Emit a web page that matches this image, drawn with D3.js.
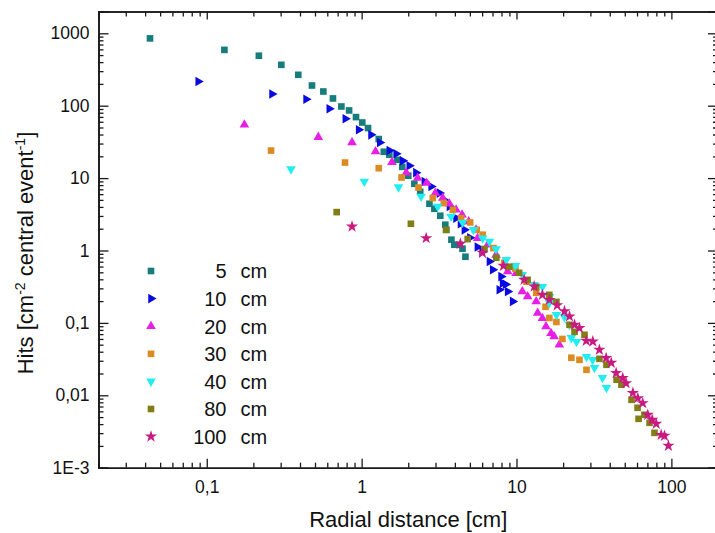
<!DOCTYPE html>
<html><head><meta charset="utf-8">
<script src="https://cdn.jsdelivr.net/npm/d3@7"></script>
<style>
body{margin:0;background:#fff}
svg{display:block}
text{font-family:Arial,"Liberation Sans",sans-serif;fill:#111}
</style>
</head><body>
<svg id="chart" width="715" height="533"></svg>
<script>
// ---------- data (radial distance [cm], hits) ----------
const seriesLabels = ["5", "10", "20", "30", "40", "80", "100"];
const unitLabel = "cm";

const r5  = [0.043,0.130,0.217,0.303,0.390,0.478,0.566,0.653,0.740,0.830,0.920,1.01,1.10,1.29,1.39,1.51,1.70,1.83,2.00,2.19,2.39,2.74,2.95,3.22,3.47,3.52,3.80,3.97,4.28,4.48,4.68];
const h5  = [850,590,490,367,267,190,157,126,97.5,86,69.6,58.6,49.1,34.6,23.1,21.0,17.9,14.3,10.8,8.34,6.47,4.42,3.77,3.02,2.27,1.93,1.41,1.20,1.20,1.06,0.82];

const r10 = [0.0881,0.264,0.438,0.618,0.785,0.957,1.15,1.31,1.51,1.67,1.84,2.03,2.24,2.54,2.81,3.18,3.40,3.69,4.07,4.35,4.61,5.0,5.59,6.0,6.69,7.02,7.95,8.13,7.75,8.5,8.77,9.44];
const h10 = [216,145,123,90.6,65.9,46.5,39.6,31.0,24.0,21.7,17.3,14.8,11.9,8.97,7.65,6.21,5.0,4.05,2.80,2.35,1.93,1.5,1.12,0.95,0.705,0.541,0.436,0.354,0.287,0.34,0.271,0.198];

const r20 = [0.175,0.525,0.867,1.23,1.57,1.94,2.30,2.63,2.99,3.34,3.69,4.07,4.45,4.91,5.48,5.61,6.52,7.38,8.77,9.94,10.9,11.8,13.4,13.7,14.7,15.5,16.7,17.5,18.9];
const h20 = [54.5,36.8,31.0,23.3,16.6,11.9,10.0,8.53,6.21,5.30,4.42,3.65,3.11,2.52,1.93,1.48,1.20,0.87,0.513,0.487,0.271,0.232,0.197,0.137,0.116,0.089,0.072,0.065,0.050];

const r30 = [0.260,0.781,1.29,1.81,2.33,2.88,3.39,3.88,4.39,5.02,5.53,6.05,7.10,8.34,9.84,11.6,13.4,15.4,16.3,18.1,19.8,22.6,25.5,28.3];
const h30 = [24.0,16.4,13.7,10.2,7.41,5.30,4.52,3.65,2.80,2.44,1.93,1.65,1.08,0.676,0.559,0.370,0.261,0.167,0.117,0.103,0.0600,0.033,0.0309,0.0225];

const r40 = [0.350,1.04,1.73,2.42,3.10,3.78,4.49,5.27,6.05,6.69,7.38,8.59,9.84,10.9,13.0,14.7,16.3,16.3,18.1,20.4,22.0,22.6,24.4,28.3,31.0,31.9,35.9,38.1];
const h40 = [13.3,8.97,7.51,5.57,4.05,2.95,2.44,1.93,1.48,1.33,1.05,0.744,0.615,0.462,0.336,0.315,0.229,0.189,0.129,0.121,0.0942,0.0622,0.0548,0.0340,0.0309,0.0240,0.0175,0.0127];

const r80 = [0.690,2.08,3.51,4.84,6.21,7.41,8.99,10.4,11.8,13.4,16.3,18.1,22.0,23.7,27.5,34.3,38.1,44.3,47.6,55.3,60.5,67.0,61.4,72.3,77.8];
const h80 = [3.39,2.34,1.93,1.44,1.05,0.793,0.596,0.492,0.394,0.315,0.244,0.195,0.0942,0.0753,0.0685,0.0319,0.0264,0.0164,0.0140,0.00867,0.00672,0.00538,0.00473,0.00417,0.00303];

const r100 = [0.867,2.61,4.34,6.03,8.23,11.2,13.0,14.7,16.3,18.3,20.4,22.0,23.7,25.5,28.2,31.1,34.3,37.9,40.9,44.0,48.5,51.0,56.4,60.7,65.3,70.4,75.2,79.8,85.9,90.2,95.7];
const h100 = [2.14,1.48,1.24,0.929,0.615,0.394,0.318,0.244,0.208,0.175,0.145,0.123,0.0942,0.0848,0.0566,0.0553,0.0425,0.0327,0.0281,0.0203,0.0173,0.0147,0.0108,0.00914,0.00780,0.00538,0.00459,0.00404,0.00284,0.00276,0.00201];

const xTickValues = [0.1, 1, 10, 100];
const xTickLabels = ["0,1", "1", "10", "100"];
const yTickValues = [0.001, 0.01, 0.1, 1, 10, 100, 1000];
const yTickLabels = ["1E-3", "0,01", "0,1", "1", "10", "100", "1000"];

const xTitle = "Radial distance [cm]";

// ---------- styling ----------
const colors = ["#167c7c", "#0a0ae0", "#e61ee6", "#dc8a22", "#22eef2", "#7f7f16", "#c81a80"];
const shapes = ["square", "right", "up", "square", "down", "square", "star"];

(function draw() {
const svg = d3.select("#chart");
const pL = 98.5, pR = 718, pT = 11.5, pB = 467.7;

const x = d3.scaleLog().domain([0.02, 200]).range([pL, pR]);
const y = d3.scaleLog().domain([0.001, 2000]).range([pB, pT]);

function minorTicks(lo, hi) {
  const out = [];
  for (let e = Math.floor(Math.log10(lo)); e <= Math.ceil(Math.log10(hi)); e++) {
    for (let m = 2; m <= 9; m++) {
      const v = m * Math.pow(10, e);
      if (v > lo * 1.0001 && v < hi * 0.9999) out.push(v);
    }
  }
  return out;
}
const xMinor = minorTicks(0.02, 200);
const yMinor = minorTicks(0.001, 2000);

function styleAxis(g) {
  g.select(".domain").attr("stroke", "#1a1a1a").attr("stroke-width", 1.6);
  g.selectAll(".tick line").attr("stroke", "#1a1a1a").attr("stroke-width", 1.3);
  g.selectAll("text").attr("font-size", "17.5px").attr("fill", "#111")
    .attr("font-family", "Arial, 'Liberation Sans', sans-serif");
}

// bottom axis
svg.append("g").attr("transform", `translate(0,${pB})`)
  .call(d3.axisBottom(x).tickValues(xMinor).tickSize(-5).tickFormat(""))
  .call(styleAxis);
svg.append("g").attr("transform", `translate(0,${pB})`)
  .call(d3.axisBottom(x).tickValues(xTickValues).tickSize(-9).tickPadding(13)
    .tickFormat((d, i) => xTickLabels[i]))
  .call(styleAxis);

// top axis
svg.append("g").attr("transform", `translate(0,${pT})`)
  .call(d3.axisTop(x).tickValues(xMinor).tickSize(-5).tickFormat(""))
  .call(styleAxis);
svg.append("g").attr("transform", `translate(0,${pT})`)
  .call(d3.axisTop(x).tickValues(xTickValues).tickSize(-8).tickFormat(""))
  .call(styleAxis);

// left axis
svg.append("g").attr("transform", `translate(${pL},0)`)
  .call(d3.axisLeft(y).tickValues(yMinor).tickSize(-5).tickFormat(""))
  .call(styleAxis);
svg.append("g").attr("transform", `translate(${pL},0)`)
  .call(d3.axisLeft(y).tickValues(yTickValues).tickSize(-10).tickPadding(9)
    .tickFormat((d, i) => yTickLabels[i]))
  .call(styleAxis);

// right axis
svg.append("g").attr("transform", `translate(${pR},0)`)
  .call(d3.axisRight(y).tickValues(yMinor).tickSize(-5).tickFormat(""))
  .call(styleAxis);
svg.append("g").attr("transform", `translate(${pR},0)`)
  .call(d3.axisRight(y).tickValues(yTickValues).tickSize(-10).tickFormat(""))
  .call(styleAxis);

// axis titles
svg.append("text")
  .attr("x", (pL + pR) / 2).attr("y", 527)
  .attr("text-anchor", "middle").attr("font-size", "22px")
  .text(xTitle);

const yt = svg.append("text")
  .attr("transform", "translate(33,253) rotate(-90)")
  .attr("text-anchor", "middle").attr("font-size", "22px");
yt.append("tspan").text("Hits [cm");
yt.append("tspan").attr("font-size", "14px").attr("dy", "-8").text("-2");
yt.append("tspan").attr("dy", "8").text(" central event");
yt.append("tspan").attr("font-size", "14px").attr("dy", "-8").text("-1");
yt.append("tspan").attr("dy", "8").text("]");

// marker paths
const sq = d3.symbol().type(d3.symbolSquare).size(44)();
const tri = d3.symbol().type(d3.symbolTriangle).size(40)();
const star = d3.symbol().type(d3.symbolStar).size(46)();
function markerPath(shape) {
  if (shape === "square") return { d: sq, rot: 0 };
  if (shape === "star") return { d: star, rot: 0 };
  if (shape === "up") return { d: tri, rot: 0 };
  if (shape === "right") return { d: tri, rot: 90 };
  return { d: tri, rot: 180 };
}

const allR = [r5, r10, r20, r30, r40, r80, r100];
const allH = [h5, h10, h20, h30, h40, h80, h100];

allR.forEach((rs, si) => {
  const pts = rs.map((r, i) => [r, allH[si][i]]);
  const m = markerPath(shapes[si]);
  svg.append("g").selectAll("path").data(pts).join("path")
    .attr("d", m.d)
    .attr("transform", d => `translate(${x(d[0])},${y(d[1])}) rotate(${m.rot})`)
    .attr("fill", colors[si]);
});

// legend
const legY0 = 271, legDY = 27.6;
const leg = svg.append("g");
seriesLabels.forEach((lab, i) => {
  const cy = legY0 + i * legDY;
  const m = markerPath(shapes[i]);
  leg.append("path").attr("d", m.d)
    .attr("transform", `translate(151,${cy}) rotate(${m.rot})`)
    .attr("fill", colors[i]);
  leg.append("text").attr("x", 226.5).attr("y", cy + 7.3)
    .attr("text-anchor", "end").attr("font-size", "20px").text(lab);
  leg.append("text").attr("x", 240.5).attr("y", cy + 7.3)
    .attr("font-size", "20px").text(unitLabel);
});
})();
</script>
</body></html>
